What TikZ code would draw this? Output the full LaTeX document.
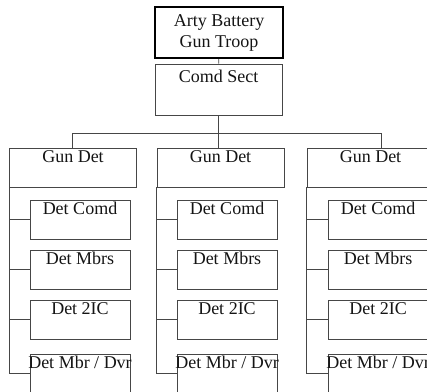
\documentclass[tikz,border=0pt]{standalone}
\usepackage{fontspec}
\setmainfont{Liberation Serif}
\usepackage{xcolor}
\usepackage{tikz}
\usetikzlibrary{calc,positioning}
\definecolor{linegrey}{RGB}{70,70,70}
\definecolor{textblack}{RGB}{20,20,20}

\begin{document}
\begin{tikzpicture}[x=1pt, y=-1pt,
    every node/.append style={font=\fontsize{18}{21}\selectfont, text=textblack},
    unitbox/.style={draw=linegrey, line width=0.9pt, inner sep=0pt},
    headbox/.style={draw=black, line width=2pt, minimum width=128pt, minimum height=51pt, align=center},
    boxtitle/.style={anchor=north, inner sep=2.5pt}]
    \useasboundingbox (0,0) rectangle (427,391);
    \clip (0,0) rectangle (427,391);

    % Troop head and command section
    \node[headbox] (troop) at (219,32.5) {Arty Battery\\Gun Troop};
    \node[unitbox, minimum width=127pt, minimum height=51pt,
      label={[boxtitle, inner sep=6pt]north:Comd Sect}] (comd) at (218.5,89.5) {};
    \draw[linegrey, line width=0.9pt] (troop) -- (comd);
    \coordinate (bus) at (218.5,133);
    \draw[linegrey, line width=0.9pt] (comd.south) -- (bus);

    % 3 gun detachments, each with 4 members hung off a spine on the left
    \foreach \c/\gx/\dx/\sx in {1/73/63/10, 2/220.5/62/157, 3/370.5/75/308} {
      \node[unitbox, minimum width=127pt, minimum height=39pt,
        label={[boxtitle]north:Gun Det}] (gun\c) at (\gx,167.5) {};
      \draw[linegrey, line width=0.9pt] ($(gun\c.north west)+(\dx,0)$) |- (bus);
      \foreach \r/\ry/\txt in {1/219.5/{Det Comd}, 2/269.5/{Det Mbrs}, 3/319.5/{Det 2IC}, 4/373.5/{Det Mbr / Dvr}} {
        \node[unitbox, minimum width=100pt, minimum height=39pt,
          label={[boxtitle]north:\txt}] (det\c\r) at (\sx+70,\ry) {};
      }
      \draw[linegrey, line width=0.9pt] (gun\c.south west) |- (det\c4.west);
      \foreach \r in {1,2,3} {
        \draw[linegrey, line width=0.9pt] (det\c\r.west) -- (det\c\r.west -| gun\c.south west);
      }
    }
  \end{tikzpicture}
\end{document}
